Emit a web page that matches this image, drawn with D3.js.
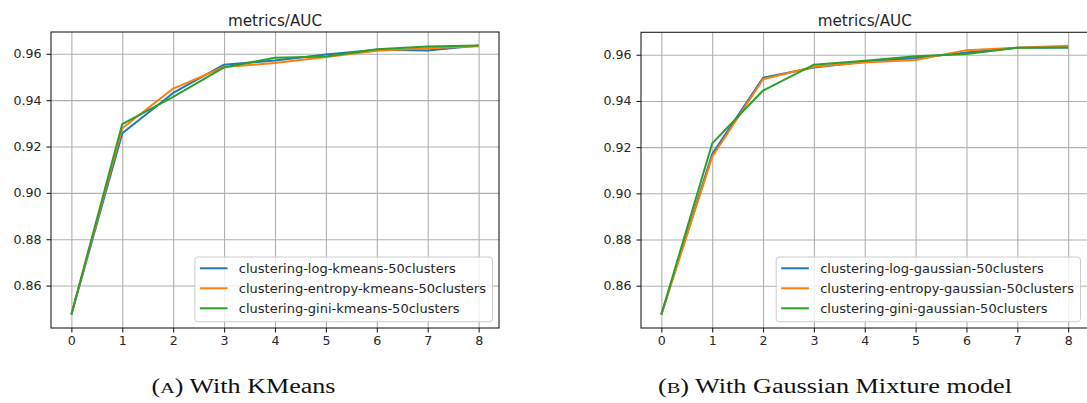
<!DOCTYPE html>
<html>
<head>
<meta charset="utf-8">
<script src="https://cdn.jsdelivr.net/npm/d3@7"></script>
<style>
  body { margin: 0; background: #fff; }
  svg { display: block; }
  .tick-label { font-family: "DejaVu Sans", sans-serif; font-size: 12.6px; fill: #262626; }
  .title { font-family: "DejaVu Sans", sans-serif; font-size: 15.2px; fill: #262626; }
  .legend-label { font-family: "DejaVu Sans", sans-serif; font-size: 13px; fill: #262626; }
  .caption { font-family: "Liberation Serif", "DejaVu Serif", serif; font-size: 20px; fill: #111; }
</style>
</head>
<body>
<svg id="chart" width="1087" height="403"></svg>
<script>
// x values (training steps) and tick labels
const steps = [0, 1, 2, 3, 4, 5, 6, 7, 8];
const yTicks = [0.86, 0.88, 0.90, 0.92, 0.94, 0.96];

// KMeans runs
const kmeansLog     = [0.8475, 0.9257, 0.9431, 0.9553, 0.9571, 0.9597, 0.9617, 0.9614, 0.9636];
const kmeansEntropy = [0.8475, 0.9279, 0.9450, 0.9543, 0.9560, 0.9586, 0.9613, 0.9624, 0.9633];
const kmeansGini    = [0.8475, 0.9297, 0.9414, 0.9541, 0.9583, 0.9588, 0.9620, 0.9631, 0.9636];
const kmeansNames = [
  "clustering-log-kmeans-50clusters",
  "clustering-entropy-kmeans-50clusters",
  "clustering-gini-kmeans-50clusters"
];

// Gaussian mixture runs
const gaussLog     = [0.8475, 0.9170, 0.9500, 0.9545, 0.9570, 0.9586, 0.9610, 0.9630, 0.9631];
const gaussEntropy = [0.8475, 0.9158, 0.9494, 0.9548, 0.9566, 0.9577, 0.9620, 0.9630, 0.9639];
const gaussGini    = [0.8475, 0.9216, 0.9445, 0.9557, 0.9574, 0.9593, 0.9603, 0.9630, 0.9631];
const gaussNames = [
  "clustering-log-gaussian-50clusters",
  "clustering-entropy-gaussian-50clusters",
  "clustering-gini-gaussian-50clusters"
];

const colors = ["#1f77b4", "#ff7f0e", "#2ca02c"];

const svg = d3.select("#chart");

function drawPanel(box, series, names, caption) {
  const { left, right, top, bottom } = box;
  const g = svg.append("g");

  // matplotlib style 5% margins
  const all = series.flat();
  const [lo, hi] = d3.extent(all);
  const pad = (hi - lo) * 0.05;
  const x = d3.scaleLinear().domain([-0.4, 8.4]).range([left, right]);
  const y = d3.scaleLinear().domain([lo - pad, hi + pad]).range([bottom, top]);

  // grid
  g.append("g")
    .attr("transform", `translate(0,${bottom})`)
    .call(d3.axisBottom(x).tickValues(steps).tickSize(-(bottom - top)).tickFormat(""))
    .call(a => a.select(".domain").remove())
    .call(a => a.selectAll("line").attr("stroke", "#b0b0b0").attr("stroke-width", 1.1));
  g.append("g")
    .attr("transform", `translate(${left},0)`)
    .call(d3.axisLeft(y).tickValues(yTicks).tickSize(-(right - left)).tickFormat(""))
    .call(a => a.select(".domain").remove())
    .call(a => a.selectAll("line").attr("stroke", "#b0b0b0").attr("stroke-width", 1.1));

  // lines
  const line = d3.line().x((d, i) => x(steps[i])).y(d => y(d));
  series.forEach((s, i) => {
    g.append("path")
      .datum(s)
      .attr("fill", "none")
      .attr("stroke", colors[i])
      .attr("stroke-width", 2)
      .attr("stroke-linejoin", "round")
      .attr("d", line);
  });

  // axes with ticks + labels
  const xAxis = g.append("g")
    .attr("transform", `translate(0,${bottom})`)
    .call(d3.axisBottom(x).tickValues(steps).tickSize(4.5).tickPadding(4).tickFormat(d3.format("d")));
  const yAxis = g.append("g")
    .attr("transform", `translate(${left},0)`)
    .call(d3.axisLeft(y).tickValues(yTicks).tickSize(4.5).tickPadding(5).tickFormat(d3.format(".2f")));
  [xAxis, yAxis].forEach(a => {
    a.select(".domain").remove();
    a.selectAll("line").attr("stroke", "#222").attr("stroke-width", 1.1);
    a.selectAll("text").attr("class", "tick-label").attr("fill", null).attr("font-size", null).attr("font-family", null);
  });

  // frame
  g.append("rect")
    .attr("x", left).attr("y", top)
    .attr("width", right - left).attr("height", bottom - top)
    .attr("fill", "none").attr("stroke", "#222").attr("stroke-width", 1.1);

  // title
  g.append("text")
    .attr("class", "title")
    .attr("x", (left + right) / 2).attr("y", 26)
    .attr("text-anchor", "middle")
    .text("metrics/AUC");

  // legend
  const lg = g.append("g");
  const rowH = 20;
  const texts = names.map((n, i) => lg.append("text")
    .attr("class", "legend-label")
    .attr("y", 268.3 + i * rowH)
    .attr("dominant-baseline", "central")
    .text(n));
  const tw = d3.max(texts, t => t.node().getComputedTextLength());
  const boxRight = Math.min(right, 1087) - 6.5;
  const boxW = 5 + 27.7 + 11.3 + tw + 6.5;
  const boxLeft = boxRight - boxW;
  lg.insert("rect", "text")
    .attr("x", boxLeft).attr("y", 257)
    .attr("width", boxW).attr("height", 64.7)
    .attr("rx", 3)
    .attr("fill", "#fff").attr("fill-opacity", 0.8)
    .attr("stroke", "#cccccc").attr("stroke-width", 1);
  texts.forEach((t, i) => {
    t.attr("x", boxLeft + 44);
    lg.append("line")
      .attr("x1", boxLeft + 5).attr("x2", boxLeft + 32.7)
      .attr("y1", 268.3 + i * rowH).attr("y2", 268.3 + i * rowH)
      .attr("stroke", colors[i]).attr("stroke-width", 2);
  });

  // caption with small-caps letter (stretched to the width of the serif original)
  const cap = svg.append("text")
    .attr("class", "caption")
    .attr("x", caption.cx - caption.width / 2).attr("y", 393)
    .attr("textLength", caption.width)
    .attr("lengthAdjust", "spacingAndGlyphs");
  cap.append("tspan").text("(");
  cap.append("tspan").attr("font-size", "15.5px").text(caption.letter);
  cap.append("tspan").text(") " + caption.text);
}

drawPanel({ left: 51, right: 499, top: 32, bottom: 328 },
  [kmeansLog, kmeansEntropy, kmeansGini], kmeansNames,
  { cx: 243.5, width: 184, letter: "A", text: "With KMeans" });

drawPanel({ left: 641, right: 1088.5, top: 32.3, bottom: 328 },
  [gaussLog, gaussEntropy, gaussGini], gaussNames,
  { cx: 835, width: 354, letter: "B", text: "With Gaussian Mixture model" });
</script>
</body>
</html>
